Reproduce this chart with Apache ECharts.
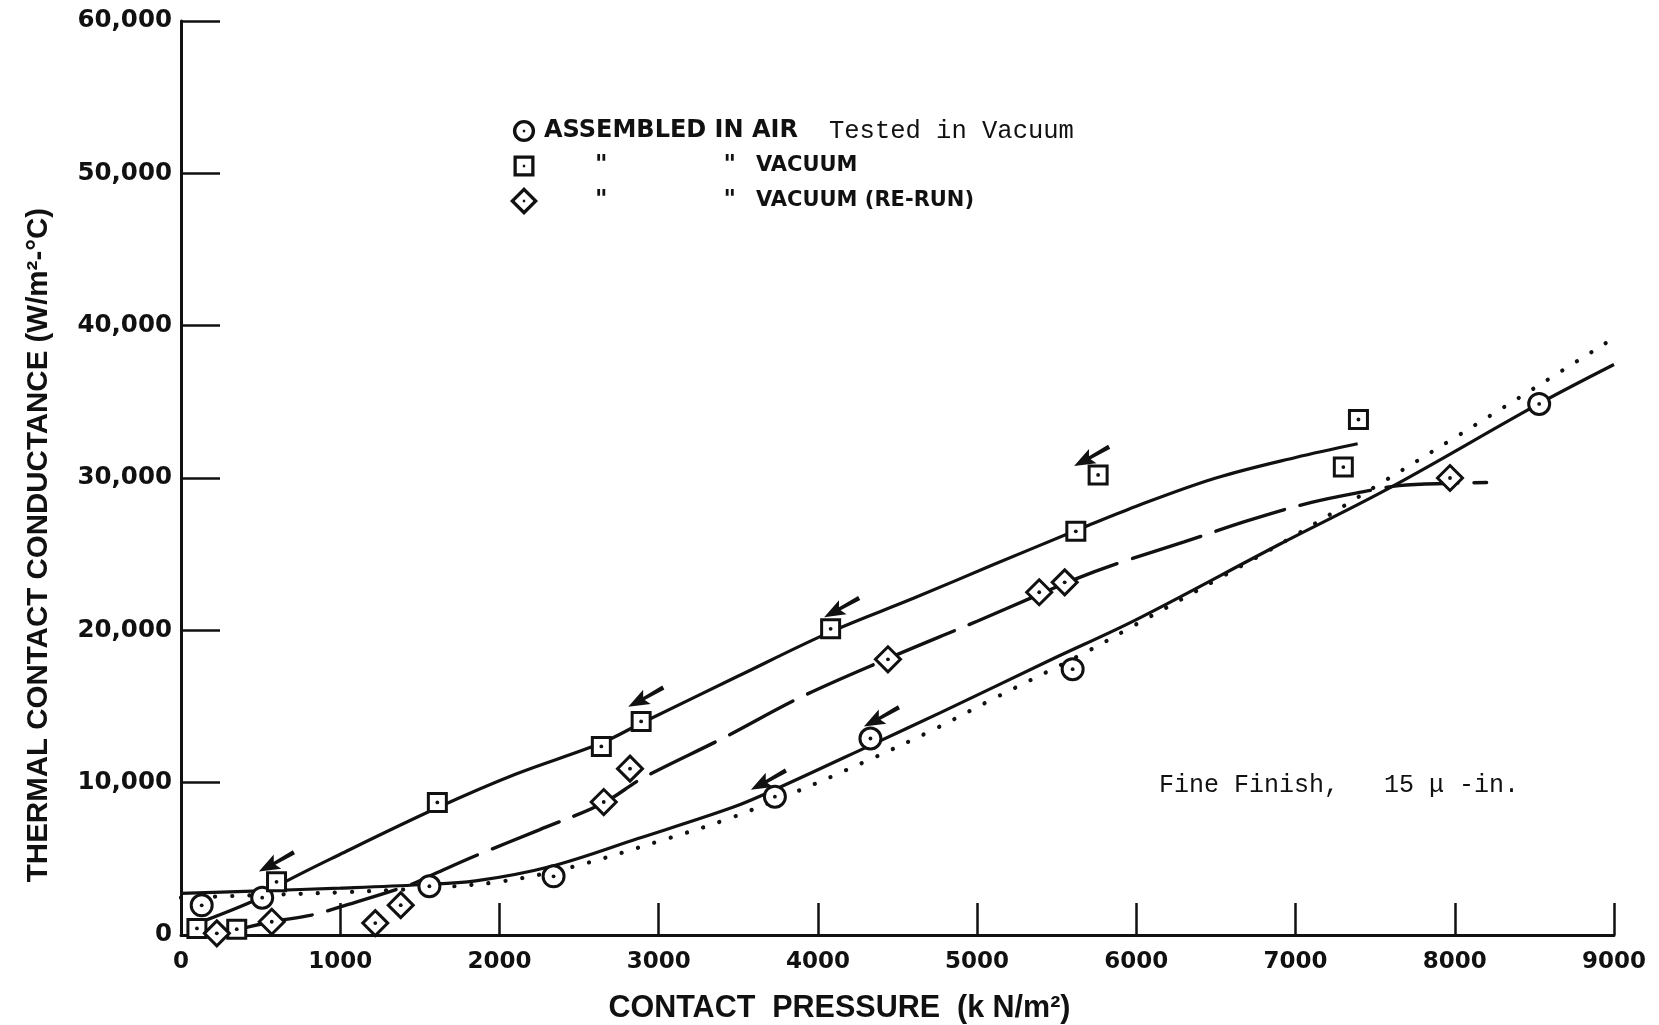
<!DOCTYPE html>
<html>
<head>
<meta charset="utf-8">
<title>Thermal contact conductance vs contact pressure</title>
<script src="https://cdn.jsdelivr.net/npm/echarts@6/dist/echarts.min.js"></script>
<style>
  html, body { margin: 0; padding: 0; background: #fff; }
  #chart { width: 1659px; height: 1025px; }
</style>
</head>
<body>
<div id="chart"></div>
<script>
// Axis tick labels
const xTickLabels = ['0', '1000', '2000', '3000', '4000', '5000', '6000', '7000', '8000', '9000'];
const yTickLabels = ['0', '10,000', '20,000', '30,000', '40,000', '50,000', '60,000'];

// Series names
const seriesNames = ['ASSEMBLED IN AIR', 'VACUUM', 'VACUUM (RE-RUN)'];

// Measured points [contact pressure kN/m², conductance W/m²-°C]
const airPts = [[130, 1950], [510, 2450], [1560, 3200], [2340, 3850], [3730, 9080],
  [4330, 12900], [5600, 17450], [8530, 34860]];
const vacPts = [[100, 430], [350, 380], [600, 3490], [1610, 8700], [2640, 12380],
  [2890, 14020], [4080, 20100], [5620, 26500], [5760, 30200], [7300, 30720], [7395, 33840]];
const rerunPts = [[225, 110], [570, 870], [1220, 780], [1380, 1960], [2655, 8730],
  [2820, 10920], [4440, 18100], [5390, 22500], [5550, 23150], [7970, 30000]];

// Faired curves
const airCurve = [[0, 2730], [500, 2900], [1000, 3080], [1500, 3300], [1850, 3550],
  [2340, 4550], [2870, 6330], [3470, 8400], [3730, 9550], [4330, 12450], [4770, 14600],
  [5460, 18050], [6000, 20700], [6900, 25650], [7600, 29400], [8530, 34880], [9000, 37450]];
const dotCurve = [[0, 2450], [500, 2620], [1000, 2800], [1500, 3050], [2000, 3500],
  [2450, 4450], [3030, 6250], [3430, 7600], [3840, 9300], [4290, 11350], [4710, 13400],
  [5100, 15500], [5680, 18550], [6000, 20400], [6500, 23300], [7000, 26250], [7550, 29750],
  [8000, 32650], [8500, 35900], [9000, 39200]];
const vacCurve = [[60, 600], [500, 2450], [620, 3300], [1000, 5300], [1610, 8350],
  [2100, 10550], [2640, 12600], [2890, 13900], [3500, 17000], [4080, 19900], [4600, 22100],
  [5100, 24300], [5620, 26550], [6000, 28150], [6500, 30000], [7000, 31350], [7390, 32250]];
const rerunCurve = [[380, 420], [570, 870], [820, 1310], [1000, 1850], [1440, 3300],
  [1600, 4050], [1850, 5200], [2250, 6900], [2650, 8650], [2900, 10300], [3400, 12900],
  [3900, 15650], [4440, 18150], [5000, 20600], [5400, 22400], [5600, 23300], [5900, 24450],
  [6300, 25800], [6700, 27200], [7100, 28400], [7450, 29150], [7650, 29500], [7970, 29650],
  [8200, 29700]];

// Direction-of-load arrows
const arrowPts = [[600, 4780], [2920, 15600], [4150, 21480], [5720, 31400], [4400, 14300], [3690, 10150]];

const INK = '#111';
const capsFont = "'DejaVu Sans', Verdana, sans-serif";
const titleFont = "'Liberation Sans', Arial, sans-serif";
const typeFont = "'Liberation Mono', 'DejaVu Sans Mono', monospace";

// Legend icons share a 24x24 frame (tiny corner specks fix the frame size)
const frame = 'M0,0h0.01v0.01h-0.01ZM24,24h-0.01v-0.01h0.01Z';
const ringIcon = 'path://' + frame +
  'M12,2.5A9.5,9.5,0,1,1,12,21.5A9.5,9.5,0,1,1,12,2.5ZM12,5.4A6.6,6.6,0,1,0,12,18.6A6.6,6.6,0,1,0,12,5.4ZM11,11H13V13H11Z';
const boxIcon = 'path://' + frame +
  'M3,3H21V21H3ZM5.8,5.8V18.2H18.2V5.8ZM11,11V13H13V11Z';
const diamondIcon = 'path://' + frame +
  'M12,0L24,12L12,24L0,12ZM12,4L4,12L12,20L20,12ZM11,11V13H13V11Z';
const arrowPath = 'path://M0,7L19,0L16,5.5L36,4.5L36,8.5L16,8.5L19,14Z';

const chart = echarts.init(document.getElementById('chart'), null, { renderer: 'canvas' });

const hollow = { color: '#fff', borderColor: INK, borderWidth: 3, opacity: 1 };
const capsText = { fontFamily: capsFont, fontWeight: 'bold', color: INK, lineHeight: 24 };

chart.setOption({
  backgroundColor: '#fff',
  animation: false,
  grid: { left: 181, right: 45, top: 21, bottom: 90, containLabel: false, outerBoundsMode: 'none' },
  xAxis: {
    type: 'value', min: 0, max: 9000, interval: 1000,
    name: 'CONTACT  PRESSURE  (k N/m²)',
    nameLocation: 'middle', nameGap: 58,
    nameTextStyle: {
      fontFamily: titleFont, fontWeight: 'bold', fontSize: 30.5, color: INK,
      padding: [0, 116, 0, 0]
    },
    axisLine: { lineStyle: { color: INK, width: 3 } },
    axisTick: { inside: true, length: 32, lineStyle: { color: INK, width: 2.5 } },
    splitLine: { show: false },
    axisLabel: {
      margin: 16, fontFamily: capsFont, fontWeight: 'bold', fontSize: 23, color: INK,
      formatter: v => xTickLabels[Math.round(v / 1000)]
    }
  },
  yAxis: {
    type: 'value', min: 0, max: 60000, interval: 10000,
    name: 'THERMAL CONTACT CONDUCTANCE (W/m²-°C)',
    nameLocation: 'middle', nameGap: 127, nameRotate: 90,
    nameTextStyle: {
      fontFamily: titleFont, fontWeight: 'bold', fontSize: 29.5, color: INK,
      padding: [0, 134, 0, 0]
    },
    axisLine: { lineStyle: { color: INK, width: 3 } },
    axisTick: { inside: true, length: 39, lineStyle: { color: INK, width: 2.5 } },
    splitLine: { show: false },
    axisLabel: {
      margin: 9, fontFamily: capsFont, fontWeight: 'bold', fontSize: 24.5, color: INK,
      formatter: v => yTickLabels[Math.round(v / 10000)]
    }
  },
  legend: {
    orient: 'vertical', left: 505, top: 112, itemWidth: 28, itemHeight: 28, itemGap: 7,
    selectedMode: false,
    itemStyle: { color: INK, borderWidth: 0, opacity: 1 },
    data: [
      { name: seriesNames[0], icon: ringIcon },
      { name: seriesNames[1], icon: boxIcon },
      { name: seriesNames[2], icon: diamondIcon }
    ],
    formatter: function (name) {
      if (name === seriesNames[0]) return '{g| }{a1|' + name + '}{t|Tested in Vacuum}';
      return '{s1| }{q|"}{s2| }{q|"}{s3| }{a|' + name + '}';
    },
    textStyle: {
      color: INK,
      rich: {
        g: { width: 1, lineHeight: 24 },
        s1: { width: 52, lineHeight: 24 },
        s2: { width: 116, lineHeight: 24 },
        s3: { width: 20, lineHeight: 24 },
        a1: Object.assign({ width: 285, fontSize: 24 }, capsText),
        a: Object.assign({ fontSize: 21 }, capsText),
        q: Object.assign({ fontSize: 24 }, capsText),
        t: { fontFamily: typeFont, fontSize: 25.5, color: INK, lineHeight: 24 }
      }
    }
  },
  graphic: [{
    type: 'text', left: 1159, top: 773, z: 10,
    style: { text: 'Fine Finish,   15 μ -in.', fontFamily: typeFont, fontSize: 25, fill: INK }
  }],
  series: [
    {
      name: 'dotted fairing', type: 'line', data: dotCurve, showSymbol: false, silent: true,
      smooth: 0.35, z: 2,
      lineStyle: { color: INK, width: 4.2, type: [0.1, 17], cap: 'round' }
    },
    {
      name: 'air fairing', type: 'line', data: airCurve, showSymbol: false, silent: true,
      smooth: 0.35, z: 2,
      lineStyle: { color: INK, width: 3.2 }
    },
    {
      name: 'vacuum fairing', type: 'line', data: vacCurve, showSymbol: false, silent: true,
      smooth: 0.35, z: 2,
      lineStyle: { color: INK, width: 3.2 }
    },
    {
      name: 're-run fairing', type: 'line', data: rerunCurve, showSymbol: false, silent: true,
      smooth: 0.35, z: 2,
      lineStyle: { color: INK, width: 3.4, type: [72, 16], cap: 'round' }
    },
    {
      name: seriesNames[0], type: 'scatter', data: airPts, symbol: 'circle', symbolSize: 21,
      itemStyle: hollow, z: 4
    },
    {
      name: seriesNames[1], type: 'scatter', data: vacPts, symbol: 'rect', symbolSize: 18,
      itemStyle: hollow, z: 4
    },
    {
      name: seriesNames[2], type: 'scatter', data: rerunPts, symbol: 'diamond', symbolSize: 25,
      itemStyle: hollow, z: 4
    },
    {
      name: 'centre dots', type: 'scatter', data: airPts.concat(vacPts, rerunPts),
      symbol: 'circle', symbolSize: 3.8, itemStyle: { color: INK, opacity: 1 }, z: 5, silent: true
    },
    {
      name: 'arrows', type: 'scatter', data: arrowPts, symbol: arrowPath,
      symbolSize: [40, 16], symbolRotate: 28, itemStyle: { color: INK, opacity: 1 }, z: 5, silent: true
    }
  ]
});
</script>
</body>
</html>
